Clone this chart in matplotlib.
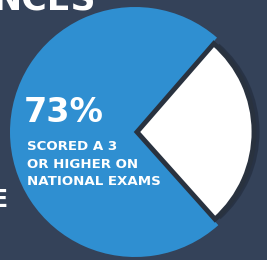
import matplotlib
matplotlib.use("Agg")
import matplotlib.pyplot as plt
import matplotlib.patheffects as pe

# data
shares = [73, 27]
slice_names = ["Scored 3 or higher", "Other"]
big_label = "73%"
sub_label = ["SCORED A 3", "OR HIGHER ON", "NATIONAL EXAMS"]

bg = "#344259"
blue = "#2f8fd1"
gap = "#29323f"

fig = plt.figure(figsize=(2.67, 2.60), dpi=100, facecolor=bg)
ax = fig.add_axes([0, 0, 1, 1])
ax.set_facecolor(bg)

wedges, _ = ax.pie(shares, colors=[blue, "white"], startangle=49,
                   center=(135, 128), radius=125, explode=[0, 2],
                   wedgeprops=dict(linewidth=0))
# white slice: a bit smaller, with a dark outline that reads as the gap
wedges[1].set_radius(117)
wedges[1].set_edgecolor(gap)
wedges[1].set_linewidth(3.5)
wedges[1].set_joinstyle("miter")
wedges[1].set_path_effects([pe.SimplePatchShadow(offset=(4, 0), shadow_rgbFace="#1e2634", alpha=0.5),
                            pe.Normal()])

ax.set_xlim(0, 267)
ax.set_ylim(0, 260)
ax.set_aspect("equal")
ax.axis("off")

# texts
ax.text(24, 260 - 122, big_label, color="white", fontsize=24, fontweight="bold",
        ha="left", va="baseline")
for i, line in enumerate(sub_label):
    ax.text(27, 260 - 150 - i * 17.5, line, color="white", fontsize=9.6,
            fontweight="bold", ha="left", va="baseline")

# cut-off heading and side text from the surrounding page
ax.text(96, 260 - 10, "NCES", color="white", fontsize=25, fontweight="bold",
        ha="right", va="baseline", clip_on=False)
ax.text(7.5, 260 - 207, "E", color="white", fontsize=17, fontweight="bold",
        ha="right", va="baseline")

fig.savefig("out.png", dpi=100, facecolor=bg)
